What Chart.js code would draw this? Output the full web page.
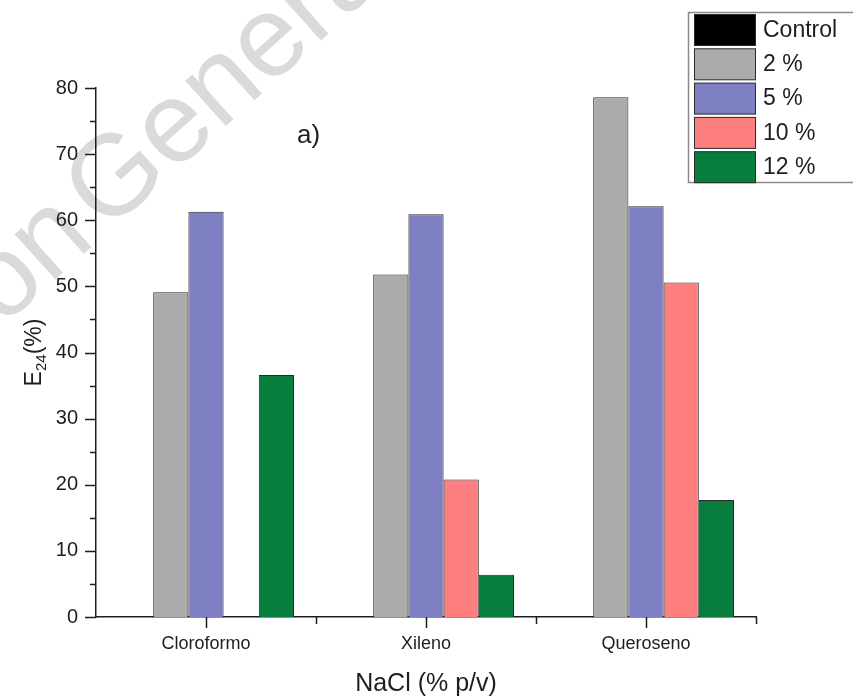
<!DOCTYPE html>
<html>
<head>
<meta charset="utf-8">
<script src="https://cdn.jsdelivr.net/npm/chart.js@4/dist/chart.umd.min.js"></script>
<style>
  html, body { margin: 0; padding: 0; background: #ffffff; }
  #wrap { position: relative; width: 853px; height: 700px; }
</style>
</head>
<body>
<div id="wrap"><canvas id="c" width="853" height="700"></canvas></div>
<script>
// E24 emulsification index by solvent and NaCl concentration
const categories = ['Cloroformo', 'Xileno', 'Queroseno'];
const seriesNames = ['Control', '2 %', '5 %', '10 %', '12 %'];
const control = [0, 0, 0];
const nacl2 = [49.1, 51.8, 78.6];
const nacl5 = [61.3, 60.9, 62.1];
const nacl10 = [0, 20.8, 50.6];
const nacl12 = [36.6, 6.4, 17.7];
const yMajorTicks = [0, 10, 20, 30, 40, 50, 60, 70, 80];
const yMinorTicks = [5, 15, 25, 35, 45, 55, 65, 75];

const FONT = "'Liberation Sans', Arial, Helvetica, sans-serif";
const INK = '#1e1e1e';
const fills = ['#000000', '#ababab', '#7f7fc3', '#fe7f7f', '#087e3e'];
const seriesData = [control, nacl2, nacl5, nacl10, nacl12];

// white page and faint diagonal watermark behind everything
const backdrop = {
  id: 'backdrop',
  beforeDraw(chart) {
    const ctx = chart.ctx;
    ctx.save();
    ctx.fillStyle = '#ffffff';
    ctx.fillRect(0, 0, chart.width, chart.height);
    ctx.translate(106, 234);
    ctx.rotate(-42 * Math.PI / 180);
    ctx.font = '115px ' + FONT;
    ctx.fillStyle = '#dadada';
    ctx.textBaseline = 'alphabetic';
    ctx.textAlign = 'left';
    const pre = 'on';
    ctx.fillText(pre, -ctx.measureText(pre).width - 12, 0);
    ctx.fillText('Genera', 0, 0);
    ctx.restore();
  }
};

// outward tick marks (major + minor) on both axes, titles, panel tag and legend
const decorations = {
  id: 'decorations',
  afterDraw(chart) {
    const ctx = chart.ctx;
    const xs = chart.scales.x, ys = chart.scales.y;
    const area = chart.chartArea;
    ctx.save();
    ctx.strokeStyle = INK;
    ctx.lineWidth = 1.5;
    ctx.beginPath();
    yMajorTicks.forEach(v => {
      const y = Math.round(ys.getPixelForValue(v)) + 0.5;
      ctx.moveTo(area.left - 11, y); ctx.lineTo(area.left, y);
    });
    yMinorTicks.forEach(v => {
      const y = Math.round(ys.getPixelForValue(v)) + 0.5;
      ctx.moveTo(area.left - 6, y); ctx.lineTo(area.left, y);
    });
    const n = categories.length;
    for (let i = 0; i < n; i++) {
      const x = Math.round(xs.getPixelForValue(i)) + 0.5;
      ctx.moveTo(x, area.bottom); ctx.lineTo(x, area.bottom + 11);
      const xb = Math.round(xs.getPixelForValue(i + 0.5)) + 0.5;
      ctx.moveTo(xb, area.bottom); ctx.lineTo(xb, area.bottom + 7);
    }
    ctx.stroke();

    // axis titles
    ctx.fillStyle = INK;
    ctx.textAlign = 'center';
    ctx.textBaseline = 'middle';
    ctx.font = '25px ' + FONT;
    ctx.fillText('NaCl (% p/v)', (area.left + area.right) / 2, 684);

    ctx.save();
    ctx.translate(33, (area.top + area.bottom) / 2);
    ctx.rotate(-Math.PI / 2);
    ctx.textAlign = 'left';
    ctx.textBaseline = 'alphabetic';
    const big = '23px ' + FONT, small = '15px ' + FONT;
    ctx.font = big; const wE = ctx.measureText('E').width;
    ctx.font = small; const wS = ctx.measureText('24').width;
    ctx.font = big; const wP = ctx.measureText('(%)').width;
    let x0 = -(wE + wS + wP) / 2;
    ctx.font = big; ctx.fillText('E', x0, 8);
    ctx.font = small; ctx.fillText('24', x0 + wE, 13);
    ctx.font = big; ctx.fillText('(%)', x0 + wE + wS, 8);
    ctx.restore();

    // panel tag
    ctx.font = '26px ' + FONT;
    ctx.textAlign = 'left';
    ctx.textBaseline = 'alphabetic';
    ctx.fillText('a)', 297, 143);

    // legend box
    ctx.strokeStyle = '#8a8a8a';
    ctx.lineWidth = 1.5;
    ctx.strokeRect(688.5, 12.5, 200, 170);
    ctx.font = '23px ' + FONT;
    ctx.textBaseline = 'middle';
    chart.data.datasets.forEach((ds, i) => {
      const top = 14.5 + i * 34.3;
      ctx.fillStyle = ds.backgroundColor;
      ctx.fillRect(694.5, top, 61, 31);
      ctx.strokeStyle = '#2a2a2a';
      ctx.lineWidth = 1;
      ctx.strokeRect(694.5, top, 61, 31);
      ctx.fillStyle = INK;
      ctx.fillText(ds.label, 763, top + 16);
    });
    ctx.restore();
  }
};

new Chart(document.getElementById('c'), {
  type: 'bar',
  data: {
    labels: categories,
    datasets: seriesNames.map((name, i) => ({
      label: name,
      data: seriesData[i],
      backgroundColor: fills[i],
      borderColor: '#2a2a2a',
      borderWidth: ctx => (ctx.raw > 0 ? 1 : 0),
      categoryPercentage: 0.8,
      barPercentage: 1.0
    }))
  },
  options: {
    responsive: false,
    animation: false,
    devicePixelRatio: 1,
    layout: { padding: { top: 88, right: 97, left: 0, bottom: 0 } },
    plugins: { legend: { display: false }, tooltip: { enabled: false } },
    scales: {
      x: {
        grid: { display: false, drawTicks: false },
        border: { display: true, color: INK, width: 1.5 },
        ticks: { font: { family: FONT, size: 18 }, color: INK, padding: 16 },
        afterFit(scale) { scale.height = 83; }
      },
      y: {
        min: 0, max: 80,
        grid: { display: false, drawTicks: false },
        border: { display: true, color: INK, width: 1.5 },
        ticks: { stepSize: 10, font: { family: FONT, size: 20 }, color: INK, padding: 18 },
        afterFit(scale) { scale.width = 96; }
      }
    }
  },
  plugins: [backdrop, decorations]
});
</script>
</body>
</html>
